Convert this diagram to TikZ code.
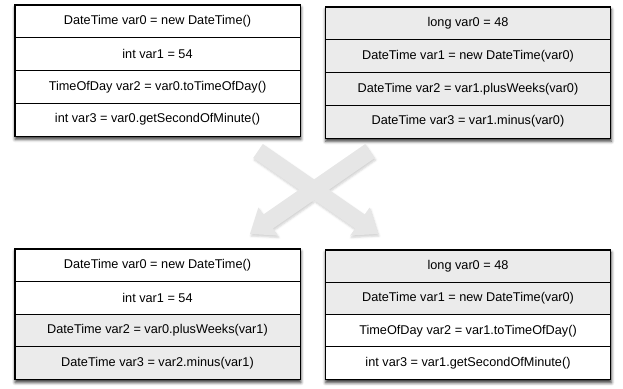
\documentclass[tikz,border=0pt]{standalone}
\usepackage{fontspec}
\setmainfont{Liberation Sans}
\usetikzlibrary{shadows.blur,backgrounds,fit}
\definecolor{cellgray}{HTML}{EBEBEB}
\definecolor{xgray}{HTML}{E6E6E6}
\tikzset{
  cell/.style={draw=black, line width=0.7pt, minimum width=285pt, minimum height=32.75pt, inner sep=0pt, font=\fontsize{12.7}{14}\selectfont, anchor=center},
  wcell/.style={cell, fill=white},
  gcell/.style={cell, fill=cellgray},
  boxframe/.style={draw=black, line width=1pt, inner sep=0pt, fill=white, blur shadow={shadow xshift=0.5pt, shadow yshift=-3pt, shadow blur radius=3pt, shadow opacity=80}},
  bigarrow/.style={fill=xgray, draw=none, nonzero rule, blur shadow={shadow xshift=1pt, shadow yshift=-2pt, shadow blur radius=2pt, shadow opacity=18}}
}
\begin{document}
\begin{tikzpicture}[x=1pt,y=-1pt]
\useasboundingbox (0,0) rectangle (623,388);
% big X of two crossing arrows
\path[bigarrow]
  (253.2,158.0) -- (355.1,228.5) -- (350.2,235.5) -- (378,234) -- (369.6,207.5) -- (364.7,214.5) -- (262.8,144.0) -- cycle
  (365.2,144.0) -- (263.3,214.5) -- (258.4,207.5) -- (250,234) -- (277.8,235.5) -- (272.9,228.5) -- (374.8,158.0) -- cycle;
% top-left
\node[wcell] (tl1) at (157.5,21.4) {DateTime var0 = new DateTime()};
\node[wcell] (tl2) at (157.5,54.1) {int var1 = 54};
\node[wcell] (tl3) at (157.5,86.9) {TimeOfDay var2 = var0.toTimeOfDay()};
\node[wcell] (tl4) at (157.5,119.6) {int var3 = var0.getSecondOfMinute()};
% top-right
\node[gcell] (tr1) at (468,23.4) {long var0 = 48};
\node[gcell] (tr2) at (468,56.1) {DateTime var1 = new DateTime(var0)};
\node[gcell] (tr3) at (468,88.9) {DateTime var2 = var1.plusWeeks(var0)};
\node[gcell] (tr4) at (468,121.6) {DateTime var3 = var1.minus(var0)};
% bottom-left
\node[wcell] (bl1) at (157.5,265.25) {DateTime var0 = new DateTime()};
\node[wcell] (bl2) at (157.5,297.75) {int var1 = 54};
\node[gcell] (bl3) at (157.5,330.25) {DateTime var2 = var0.plusWeeks(var1)};
\node[gcell] (bl4) at (157.5,362.75) {DateTime var3 = var2.minus(var1)};
% bottom-right
\node[gcell] (br1) at (468,266.25) {long var0 = 48};
\node[gcell] (br2) at (468,298.5) {DateTime var1 = new DateTime(var0)};
\node[wcell] (br3) at (468,330.75) {TimeOfDay var2 = var1.toTimeOfDay()};
\node[wcell] (br4) at (468,363) {int var3 = var1.getSecondOfMinute()};
\begin{scope}[on background layer]
\node[boxframe, fit=(tl1)(tl4)] (tlbox) {};
\node[boxframe, fit=(tr1)(tr4)] (trbox) {};
\node[boxframe, fit=(bl1)(bl4)] (blbox) {};
\node[boxframe, fit=(br1)(br4)] (brbox) {};
\end{scope}
\end{tikzpicture}
\end{document}
